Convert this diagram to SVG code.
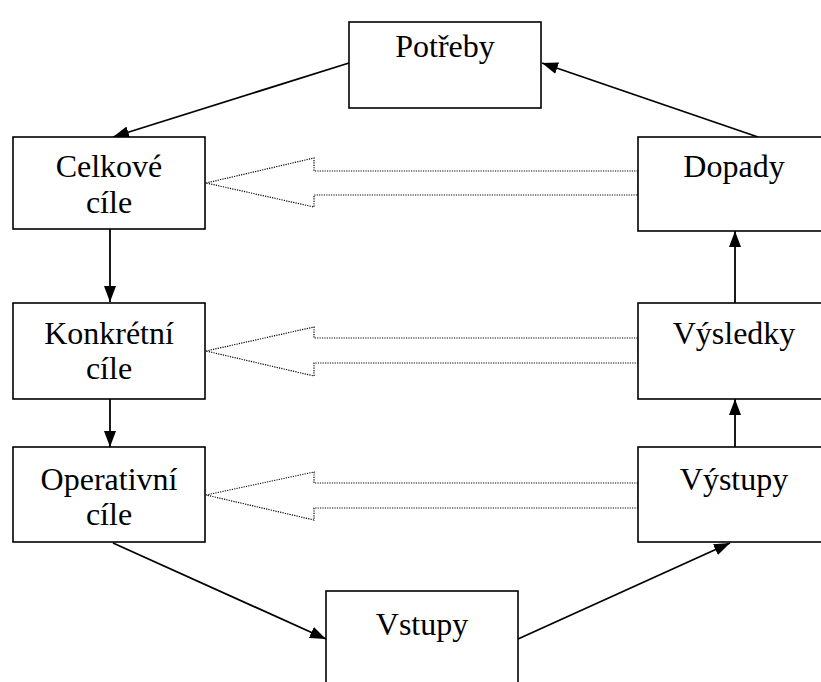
<svg xmlns="http://www.w3.org/2000/svg" width="821" height="682" viewBox="0 0 821 682">
<style>
.box{fill:#fff;stroke:#000;stroke-width:1.6}
.lbl{font-family:"Liberation Serif","Times New Roman",serif;font-size:32px;fill:#000;text-anchor:middle}
.con{stroke:#000;stroke-width:1.8;fill:none;marker-end:url(#ah)}
.blk{fill:none;stroke:#000;stroke-width:1.2;stroke-dasharray:1.2 1.2}
</style>
<defs>
<marker id="ah" markerUnits="userSpaceOnUse" markerWidth="16" markerHeight="12" refX="16" refY="6" orient="auto">
<path d="M0,0 L16,6 L0,12 z" fill="#000"/>
</marker>
</defs>
<g id="connectors">
<polygon class="blk" points="206,183 314,158 314,171 638,171 638,195 314,195 314,207"/>
<polygon class="blk" points="206,351 314,327 314,338 638,338 638,363 314,363 314,376"/>
<polygon class="blk" points="206,495 314,472 314,483 638,483 638,508 314,508 314,520"/>
<line class="con" x1="349" y1="63" x2="113" y2="137"/>
<line class="con" x1="758" y1="137" x2="542" y2="63"/>
<line class="con" x1="110" y1="229" x2="110" y2="302"/>
<line class="con" x1="110" y1="399" x2="110" y2="447"/>
<line class="con" x1="113" y1="543" x2="326" y2="639"/>
<line class="con" x1="518" y1="639" x2="730" y2="543"/>
<line class="con" x1="735" y1="447" x2="735" y2="399"/>
<line class="con" x1="735" y1="303" x2="735" y2="231"/>
</g>
<g id="potreby"><rect class="box" x="349" y="22" width="192" height="86"/><text class="lbl" x="445" y="57">Potřeby</text></g>
<g id="celkove"><rect class="box" x="13" y="137" width="192" height="92"/><text class="lbl" x="109" y="177">Celkové</text><text class="lbl" x="109" y="213">cíle</text></g>
<g id="dopady"><rect class="box" x="638" y="137" width="192" height="94"/><text class="lbl" x="734" y="177">Dopady</text></g>
<g id="konkretni"><rect class="box" x="13" y="303" width="192" height="96"/><text class="lbl" x="109" y="344">Konkrétní</text><text class="lbl" x="109" y="379">cíle</text></g>
<g id="vysledky"><rect class="box" x="638" y="303" width="192" height="96"/><text class="lbl" x="734" y="344">Výsledky</text></g>
<g id="operativni"><rect class="box" x="13" y="447" width="192" height="95"/><text class="lbl" x="109" y="490">Operativní</text><text class="lbl" x="109" y="525">cíle</text></g>
<g id="vystupy"><rect class="box" x="638" y="447" width="192" height="95"/><text class="lbl" x="734" y="490">Výstupy</text></g>
<g id="vstupy"><rect class="box" x="326" y="591" width="192" height="100"/><text class="lbl" x="422" y="635">Vstupy</text></g>
</svg>
